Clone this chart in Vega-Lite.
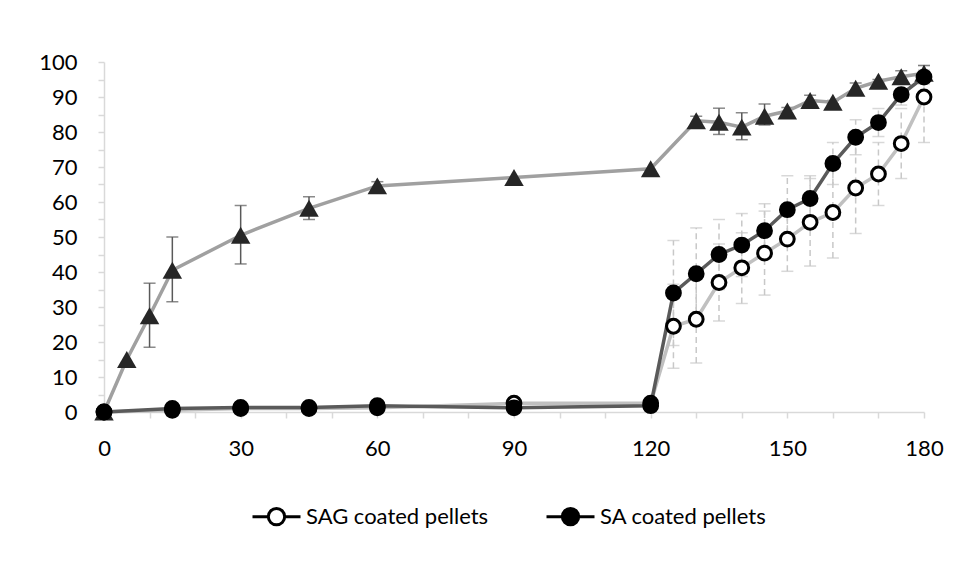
{
  "$schema": "https://vega.github.io/schema/vega-lite/v6.json",
  "width": 820,
  "height": 350,
  "autosize": {"type": "none"},
  "padding": {"left": 104, "top": 62, "right": 37, "bottom": 150},
  "background": "white",
  "config": {"view": {"stroke": null}, "font": "Lato", "axis": {"labelOverlap": false, "labelFlush": false, "labelBound": false}},
  "resolve": {"axis": {"y": "independent"}},
  "datasets": {
    "pts": [
      {"series": "Uncoated", "t": 0, "v": 0, "lo": 0, "hi": 0},
      {"series": "Uncoated", "t": 5, "v": 15, "lo": 15, "hi": 15},
      {"series": "Uncoated", "t": 10, "v": 27.5, "lo": 18.5, "hi": 36.8},
      {"series": "Uncoated", "t": 15, "v": 40.5, "lo": 31.5, "hi": 50},
      {"series": "Uncoated", "t": 30, "v": 50.5, "lo": 42.3, "hi": 59},
      {"series": "Uncoated", "t": 45, "v": 58.2, "lo": 55, "hi": 61.5},
      {"series": "Uncoated", "t": 60, "v": 64.6, "lo": 63.5, "hi": 65.8},
      {"series": "Uncoated", "t": 90, "v": 67, "lo": 67, "hi": 67},
      {"series": "Uncoated", "t": 120, "v": 69.5, "lo": 69.5, "hi": 69.5},
      {"series": "Uncoated", "t": 130, "v": 83.2, "lo": 82, "hi": 84.5},
      {"series": "Uncoated", "t": 135, "v": 82.8, "lo": 79.3, "hi": 86.8},
      {"series": "Uncoated", "t": 140, "v": 81.4, "lo": 77.8, "hi": 85.5},
      {"series": "Uncoated", "t": 145, "v": 84.5, "lo": 82, "hi": 88},
      {"series": "Uncoated", "t": 150, "v": 86, "lo": 85, "hi": 87},
      {"series": "Uncoated", "t": 155, "v": 89, "lo": 88, "hi": 90.5},
      {"series": "Uncoated", "t": 160, "v": 88.5, "lo": 88, "hi": 89},
      {"series": "Uncoated", "t": 165, "v": 92.5, "lo": 91.5, "hi": 94},
      {"series": "Uncoated", "t": 170, "v": 94.5, "lo": 94, "hi": 95},
      {"series": "Uncoated", "t": 175, "v": 95.8, "lo": 94.5, "hi": 97.5},
      {"series": "Uncoated", "t": 180, "v": 96.8, "lo": 94.5, "hi": 99},
      {"series": "SAG coated pellets", "t": 0, "v": 0, "lo": 0, "hi": 0},
      {"series": "SAG coated pellets", "t": 15, "v": 0.5, "lo": 0.5, "hi": 0.5},
      {"series": "SAG coated pellets", "t": 30, "v": 1, "lo": 1, "hi": 1},
      {"series": "SAG coated pellets", "t": 45, "v": 1, "lo": 1, "hi": 1},
      {"series": "SAG coated pellets", "t": 60, "v": 1.2, "lo": 1.2, "hi": 1.2},
      {"series": "SAG coated pellets", "t": 90, "v": 2.5, "lo": 2.5, "hi": 2.5},
      {"series": "SAG coated pellets", "t": 120, "v": 2.5, "lo": 2.5, "hi": 2.5},
      {"series": "SAG coated pellets", "t": 125, "v": 24.5, "lo": 12.5, "hi": 36.5},
      {"series": "SAG coated pellets", "t": 130, "v": 26.5, "lo": 14, "hi": 39},
      {"series": "SAG coated pellets", "t": 135, "v": 37, "lo": 26, "hi": 48},
      {"series": "SAG coated pellets", "t": 140, "v": 41.2, "lo": 31, "hi": 51.2},
      {"series": "SAG coated pellets", "t": 145, "v": 45.4, "lo": 33.4, "hi": 57.4},
      {"series": "SAG coated pellets", "t": 150, "v": 49.4, "lo": 40.2, "hi": 58.6},
      {"series": "SAG coated pellets", "t": 155, "v": 54.2, "lo": 41.7, "hi": 66.7},
      {"series": "SAG coated pellets", "t": 160, "v": 57, "lo": 44, "hi": 70},
      {"series": "SAG coated pellets", "t": 165, "v": 64, "lo": 51, "hi": 77},
      {"series": "SAG coated pellets", "t": 170, "v": 68, "lo": 59, "hi": 77},
      {"series": "SAG coated pellets", "t": 175, "v": 76.7, "lo": 66.7, "hi": 86.7},
      {"series": "SAG coated pellets", "t": 180, "v": 90, "lo": 77, "hi": 99},
      {"series": "SA coated pellets", "t": 0, "v": 0, "lo": 0, "hi": 0},
      {"series": "SA coated pellets", "t": 15, "v": 1, "lo": 1, "hi": 1},
      {"series": "SA coated pellets", "t": 30, "v": 1.3, "lo": 1.3, "hi": 1.3},
      {"series": "SA coated pellets", "t": 45, "v": 1.3, "lo": 1.3, "hi": 1.3},
      {"series": "SA coated pellets", "t": 60, "v": 1.8, "lo": 1.8, "hi": 1.8},
      {"series": "SA coated pellets", "t": 90, "v": 1.2, "lo": 1.2, "hi": 1.2},
      {"series": "SA coated pellets", "t": 120, "v": 1.8, "lo": 1.8, "hi": 1.8},
      {"series": "SA coated pellets", "t": 125, "v": 34, "lo": 19, "hi": 49},
      {"series": "SA coated pellets", "t": 130, "v": 39.5, "lo": 26.5, "hi": 52.6},
      {"series": "SA coated pellets", "t": 135, "v": 45, "lo": 35, "hi": 55},
      {"series": "SA coated pellets", "t": 140, "v": 47.7, "lo": 38.7, "hi": 56.7},
      {"series": "SA coated pellets", "t": 145, "v": 51.8, "lo": 44, "hi": 59.5},
      {"series": "SA coated pellets", "t": 150, "v": 57.8, "lo": 48, "hi": 67.5},
      {"series": "SA coated pellets", "t": 155, "v": 61, "lo": 54.5, "hi": 67.5},
      {"series": "SA coated pellets", "t": 160, "v": 71, "lo": 65, "hi": 77},
      {"series": "SA coated pellets", "t": 165, "v": 78.5, "lo": 73.5, "hi": 83.5},
      {"series": "SA coated pellets", "t": 170, "v": 82.7, "lo": 78.7, "hi": 86.7},
      {"series": "SA coated pellets", "t": 175, "v": 90.7, "lo": 87.7, "hi": 93.7},
      {"series": "SA coated pellets", "t": 180, "v": 95.7, "lo": 93.7, "hi": 97.7}
    ]
  },
  "data": {"name": "pts"},
  "layer": [
    {
      "transform": [{"filter": "datum.series != 'Uncoated' && datum.hi > datum.lo"}],
      "mark": {"type": "rule", "color": "#c8c8c8", "strokeWidth": 1.5, "strokeDash": [6, 4]},
      "encoding": {
        "x": {"field": "t", "type": "quantitative", "scale": {"domain": [0, 180], "nice": false},
          "axis": {"values": [0,5,10,15,20,25,30,35,40,45,50,55,60,65,70,75,80,85,90,95,100,105,110,115,120,125,130,135,140,145,150,155,160,165,170,175,180],
            "labelExpr": "datum.value % 30 == 0 ? datum.label : ''", "title": null, "grid": false,
            "domainColor": "#d9d9d9", "domainWidth": 1.5, "tickColor": "#d9d9d9", "tickWidth": 1.5, "tickSize": 6,
            "labelFontSize": 22, "labelColor": "#000000", "labelPadding": 20, "labelFont": "Lato", "labelOverlap": false, "labelFlush": false}},
        "y": {"field": "lo", "type": "quantitative", "scale": {"domain": [0, 100], "nice": false},
          "axis": {"values": [0,10,20,30,40,50,60,70,80,90,100], "orient": "left", "title": null, "grid": false,
            "domainColor": "#d9d9d9", "domainWidth": 1.5, "tickColor": "#d9d9d9", "tickWidth": 1.5, "tickSize": 6,
            "labelFontSize": 22, "labelColor": "#000000", "labelPadding": 21, "labelFont": "Lato", "labelOverlap": false, "labelFlush": false}},
        "y2": {"field": "hi"}
      }
    },
    {
      "transform": [{"filter": "datum.series != 'Uncoated' && datum.hi > datum.lo"}, {"fold": ["lo", "hi"], "as": ["end", "ev"]}],
      "mark": {"type": "tick", "orient": "horizontal", "color": "#c8c8c8", "thickness": 1.5, "size": 12, "strokeDash": [4, 3]},
      "encoding": {
        "x": {"field": "t", "type": "quantitative", "title": null},
        "y": {"field": "ev", "type": "quantitative",
          "axis": {"values": [5,15,25,35,45,55,65,75,85,95], "orient": "left", "title": null, "grid": false, "labels": false, "domain": false,
            "tickColor": "#d9d9d9", "tickWidth": 1.5, "tickSize": 6}}
      }
    },
    {
      "transform": [{"filter": "datum.series == 'Uncoated' && datum.hi > datum.lo"}],
      "mark": {"type": "rule", "color": "#595959", "strokeWidth": 1.5},
      "encoding": {
        "x": {"field": "t", "type": "quantitative", "title": null},
        "y": {"field": "lo", "type": "quantitative", "axis": null},
        "y2": {"field": "hi"}
      }
    },
    {
      "transform": [{"filter": "datum.series == 'Uncoated' && datum.hi > datum.lo"}, {"fold": ["lo", "hi"], "as": ["end", "ev"]}],
      "mark": {"type": "tick", "orient": "horizontal", "color": "#595959", "thickness": 1.5, "size": 12},
      "encoding": {
        "x": {"field": "t", "type": "quantitative", "title": null},
        "y": {"field": "ev", "type": "quantitative", "axis": null}
      }
    },
    {
      "mark": {"type": "line", "strokeWidth": 3.5},
      "encoding": {
        "x": {"field": "t", "type": "quantitative", "title": null},
        "y": {"field": "v", "type": "quantitative", "axis": null},
        "detail": {"field": "series"},
        "color": {"field": "series", "type": "nominal",
          "scale": {"domain": ["Uncoated", "SAG coated pellets", "SA coated pellets"], "range": ["#a0a0a0", "#c0c0c0", "#5a5a5a"]},
          "legend": null}
      }
    },
    {
      "transform": [{"filter": "datum.series == 'Uncoated'"}],
      "mark": {"type": "point", "shape": "triangle-up", "filled": true, "color": "#262626", "size": 380, "opacity": 1},
      "encoding": {
        "x": {"field": "t", "type": "quantitative", "title": null},
        "y": {"field": "v", "type": "quantitative", "axis": null}
      }
    },
    {
      "transform": [{"filter": "datum.series != 'Uncoated'"}],
      "mark": {"type": "point", "shape": "circle", "stroke": "#000000", "strokeWidth": 3, "size": 190, "opacity": 1, "fillOpacity": 1},
      "encoding": {
        "x": {"field": "t", "type": "quantitative", "title": null},
        "y": {"field": "v", "type": "quantitative", "axis": null},
        "fill": {"field": "series", "type": "nominal",
          "scale": {"domain": ["SAG coated pellets", "SA coated pellets"], "range": ["#ffffff", "#000000"]},
          "legend": {"title": null, "orient": "none", "legendX": 147, "legendY": 429, "direction": "horizontal",
            "symbolType": "M-1,0H-0.34M0.34,0H1M-0.34,0A0.34,0.34 0 1 1 0.34,0A0.34,0.34 0 1 1 -0.34,0Z",
            "symbolSize": 2304, "symbolStrokeColor": "#000000", "symbolStrokeWidth": 3,
            "labelFontSize": 22, "labelFont": "Lato", "labelColor": "#000000", "labelOffset": 4,
            "columnPadding": 51, "padding": 0, "labelLimit": 400}}
      }
    }
  ]
}
